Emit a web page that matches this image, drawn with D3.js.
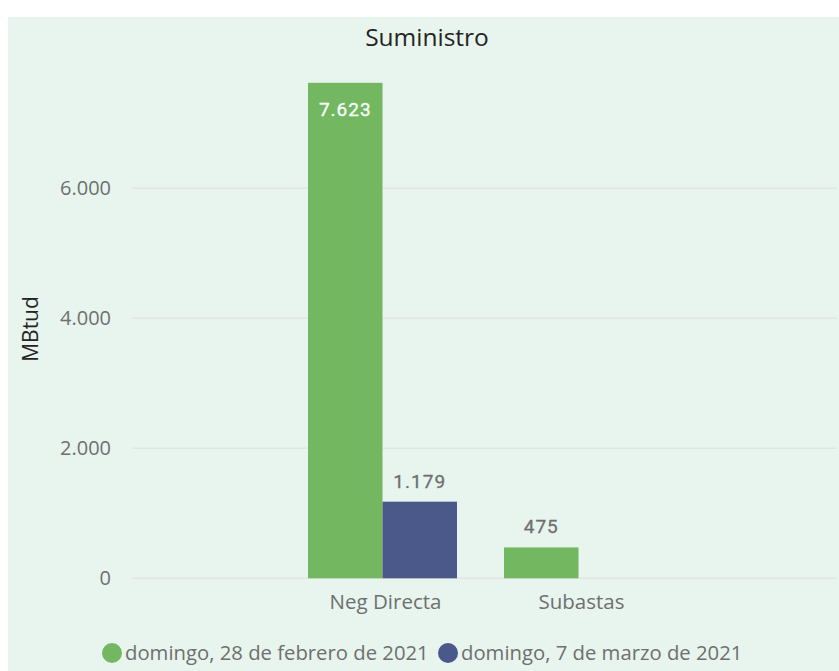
<!DOCTYPE html>
<html lang="es">
<head>
<meta charset="UTF-8">
<title>Suministro</title>
<script src="https://d3js.org/d3.v7.min.js"></script>
<style>
  html, body { margin: 0; padding: 0; background: #fff; }
  body { font-family: "Open Sans", "Noto Sans", sans-serif; }
  #chart { width: 839px; height: 671px; }
</style>
</head>
<body>
<div id="chart"></div>
<script>
const categories = ["Neg Directa", "Subastas"];
const seriesNames = ["domingo, 28 de febrero de 2021", "domingo, 7 de marzo de 2021"];
const seriesValues = [
  [7623, 475],   // domingo, 28 de febrero de 2021
  [1179, null]   // domingo, 7 de marzo de 2021
];
const yTicks = [0, 2000, 4000, 6000];
const colors = ["#73b761", "#4a588a"];

const width = 839, height = 671;
const fmt = d3.formatLocale({ decimal: ",", thousands: ".", grouping: [3], currency: ["", ""] }).format(",.0f");

const svg = d3.select("#chart").append("svg")
  .attr("width", width)
  .attr("height", height);

// panel background
svg.append("rect")
  .attr("x", 8).attr("y", 17)
  .attr("width", width - 8).attr("height", height - 17)
  .attr("fill", "#e7f5ee");

const y = d3.scaleLinear().domain([0, 6000]).range([578.3, 188.3]);

const x = d3.scaleBand()
  .domain(categories)
  .range([284.5, 676.5])
  .paddingInner(0.24)
  .paddingOuter(0.12);

const xSub = d3.scaleBand()
  .domain(d3.range(seriesNames.length))
  .range([0, x.bandwidth()]);

// gridlines
svg.append("g")
  .selectAll("line")
  .data(yTicks)
  .join("line")
  .attr("x1", 132).attr("x2", 837)
  .attr("y1", d => y(d)).attr("y2", d => y(d))
  .attr("stroke", "#e2e6e3")
  .attr("stroke-width", 1.5);

// y tick labels
svg.append("g")
  .selectAll("text")
  .data(yTicks)
  .join("text")
  .attr("x", 111)
  .attr("y", d => y(d))
  .attr("dy", "0.35em")
  .attr("text-anchor", "end")
  .attr("font-size", 20)
  .attr("fill", "#6f6f6f")
  .text(d => fmt(d));

// y axis title
svg.append("text")
  .attr("transform", "translate(38,329) rotate(-90)")
  .attr("text-anchor", "middle")
  .attr("font-size", 21)
  .attr("fill", "#252423")
  .text("MBtud");

// title
svg.append("text")
  .attr("x", 427).attr("y", 46)
  .attr("text-anchor", "middle")
  .attr("font-size", 24.5)
  .attr("fill", "#252423")
  .text("Suministro");

// bars
const bars = [];
seriesValues.forEach((vals, s) => {
  vals.forEach((v, c) => {
    if (v != null) bars.push({ s, cat: categories[c], v });
  });
});

svg.append("g")
  .selectAll("rect")
  .data(bars)
  .join("rect")
  .attr("x", d => x(d.cat) + xSub(d.s))
  .attr("width", xSub.bandwidth())
  .attr("y", d => y(d.v))
  .attr("height", d => y(0) - y(d.v))
  .attr("fill", d => colors[d.s]);

// data labels: inside the tall bar, above the short ones
const inside = d => y(0) - y(d.v) > 200;
svg.append("g")
  .selectAll("text")
  .data(bars)
  .join("text")
  .attr("x", d => x(d.cat) + xSub(d.s) + xSub.bandwidth() / 2)
  .attr("y", d => inside(d) ? y(d.v) + 33 : y(d.v) - 14)
  .attr("text-anchor", "middle")
  .attr("font-family", "Roboto, sans-serif")
  .attr("font-size", 19)
  .attr("letter-spacing", 1)
  .attr("stroke", d => inside(d) ? "#ffffff" : "#6f6f6f")
  .attr("stroke-width", 0.3)
  .attr("fill", d => inside(d) ? "#ffffff" : "#6f6f6f")
  .text(d => fmt(d.v));

// category labels
svg.append("g")
  .selectAll("text")
  .data(categories)
  .join("text")
  .attr("x", d => x(d) + x.bandwidth() / 2 + 3)
  .attr("y", 609)
  .attr("text-anchor", "middle")
  .attr("font-size", 20.5)
  .attr("fill", "#6f6f6f")
  .text(d => d);

// legend
const legend = svg.append("g").attr("transform", "translate(0,653)");
const legendX = [112, 448];
seriesNames.forEach((name, i) => {
  legend.append("circle")
    .attr("cx", legendX[i]).attr("cy", 0).attr("r", 10)
    .attr("fill", colors[i]);
  legend.append("text")
    .attr("x", legendX[i] + 13).attr("y", 0)
    .attr("dy", "0.35em")
    .attr("font-size", 20.3)
    .attr("fill", "#6f6f6f")
    .text(name);
});
</script>
</body>
</html>
